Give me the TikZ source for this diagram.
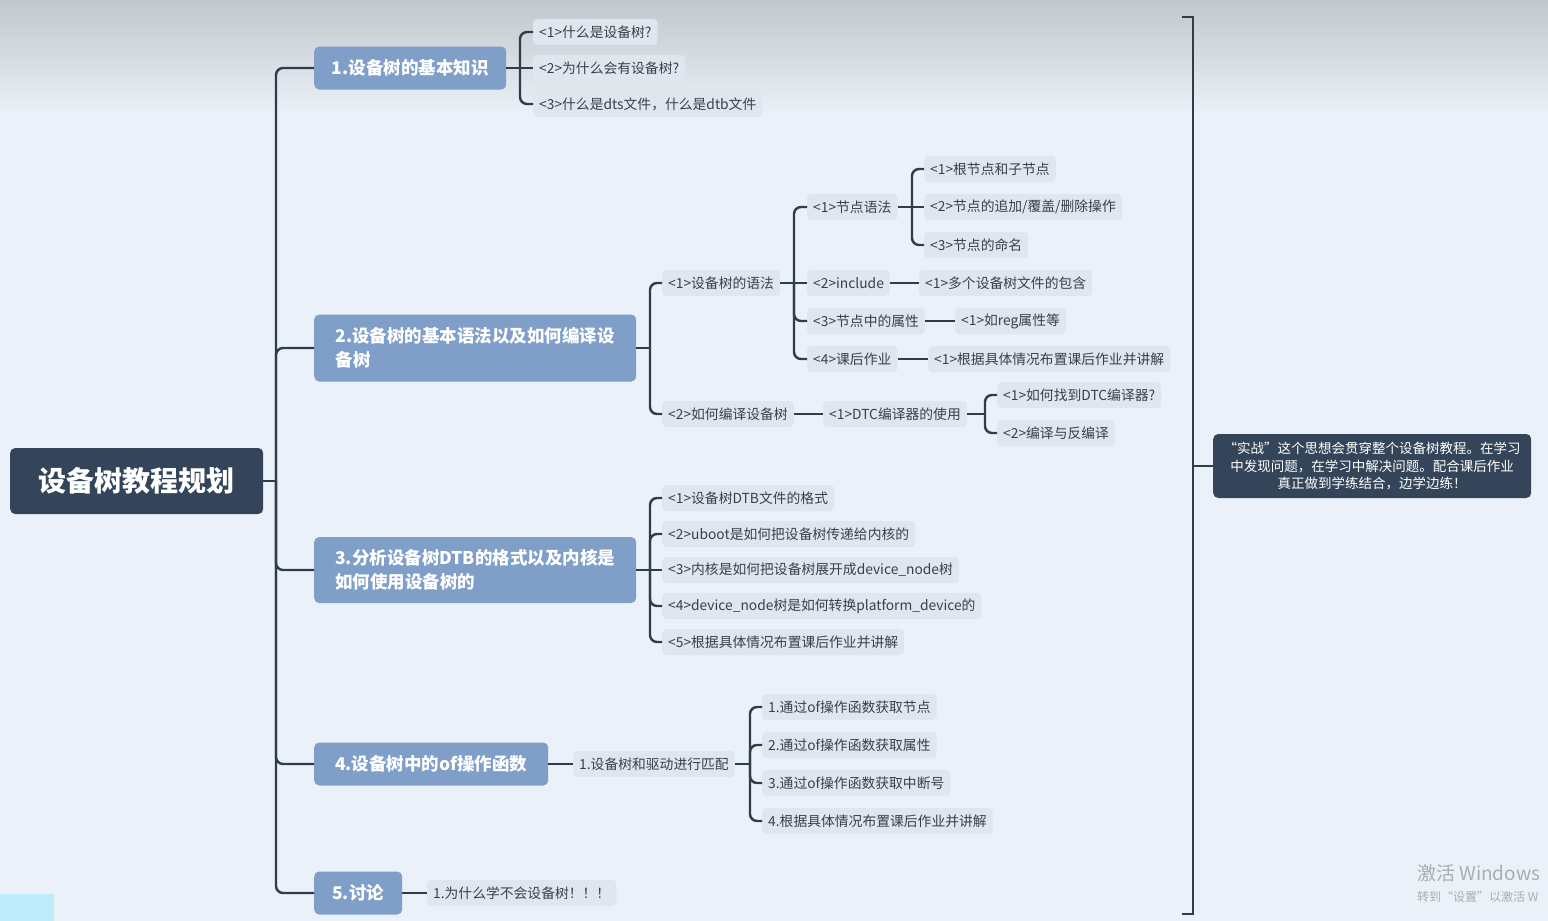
\documentclass[tikz,border=0pt]{standalone}
\usepackage{fontspec}
\setmainfont{Noto Sans CJK SC}
\definecolor{bgc}{RGB}{234,241,248}
\definecolor{topc}{RGB}{194,199,203}
\definecolor{rootc}{RGB}{52,69,90}
\definecolor{brc}{RGB}{127,159,201}
\definecolor{leafc}{RGB}{222,230,239}
\definecolor{leaftext}{RGB}{60,64,70}
\definecolor{linec}{RGB}{47,60,76}
\definecolor{wmc}{RGB}{168,174,180}
\definecolor{cyanc}{RGB}{190,236,250}
\tikzset{
  rootbox/.style={fill=rootc, rounded corners=5pt, text=white, font=\fontsize{28}{32}\selectfont\bfseries, minimum width=253pt, minimum height=66pt, inner sep=0pt, anchor=west},
  brbox/.style={fill=brc, rounded corners=5pt, text=white, font=\fontsize{17.5}{24}\selectfont\bfseries, minimum height=43pt, inner xsep=17pt, inner ysep=0pt, anchor=west, align=left},
  leaf/.style={fill=leafc, rounded corners=4pt, text=leaftext, font=\fontsize{13.8}{16}\selectfont, anchor=west, inner xsep=6pt, inner ysep=0pt, minimum height=26pt},
  conn/.style={draw=linec, line width=2.4pt, rounded corners=7pt},
  sumbox/.style={fill=rootc, rounded corners=5pt, text=white, font=\fontsize{13.5}{17.5}\selectfont, minimum width=318pt, minimum height=64pt, inner sep=0pt, align=center, anchor=west}
}
\begin{document}
\begin{tikzpicture}[x=1pt,y=-1pt]
\useasboundingbox (0,0) rectangle (1548,921);
\clip (0,0) rectangle (1548,921);
% background
\fill[bgc] (0,0) rectangle (1548,921);
\shade[top color=topc, bottom color=bgc] (0,0) rectangle (1548,115);
\fill[cyanc] (0,894) rectangle (54,921);
\node[anchor=west, text=wmc, font=\fontsize{19}{22}\selectfont, inner sep=0pt] (wm1) at (1417,873) {激活 Windows};
\node[anchor=west, text=wmc, font=\fontsize{12}{15}\selectfont, inner sep=0pt] (wm2) at (1417,897) {转到“设置”以激活 W};

% root
\node[rootbox] (root) at (10,481) {设备树教程规划};
% branches
\node[brbox, minimum width=192pt] (b1) at (314,68) {1.设备树的基本知识};
\node[brbox, minimum width=322pt, minimum height=67pt] (b2) at (314,348) {2.设备树的基本语法以及如何编译设\\备树};
\node[brbox, minimum width=322pt, minimum height=66pt] (b3) at (314,570) {3.分析设备树DTB的格式以及内核是\\如何使用设备树的};
\node[brbox, minimum width=234pt] (b4) at (314,764) {4.设备树中的of操作函数};
\node[brbox, minimum width=88pt] (b5) at (314,893) {5.讨论};

% branch 1 leaves
\node[leaf] (l11) at (533,32) {<1>什么是设备树?};
\node[leaf] (l12) at (533,68) {<2>为什么会有设备树?};
\node[leaf] (l13) at (533,104) {<3>什么是dts文件，什么是dtb文件};

% branch 2 leaves
\node[leaf] (l21) at (662,283) {<1>设备树的语法};
\node[leaf] (l22) at (662,414) {<2>如何编译设备树};
\node[leaf] (l211) at (807,207) {<1>节点语法};
\node[leaf] (l212) at (807,283) {<2>include};
\node[leaf] (l213) at (807,321) {<3>节点中的属性};
\node[leaf] (l214) at (807,359) {<4>课后作业};
\node[leaf] (l2111) at (924,169) {<1>根节点和子节点};
\node[leaf] (l2112) at (924,207) {<2>节点的追加/覆盖/删除操作};
\node[leaf] (l2113) at (924,245) {<3>节点的命名};
\node[leaf] (l2121) at (919,283) {<1>多个设备树文件的包含};
\node[leaf] (l2131) at (955,321) {<1>如reg属性等};
\node[leaf] (l2141) at (928,359) {<1>根据具体情况布置课后作业并讲解};
\node[leaf] (l221) at (823,414) {<1>DTC编译器的使用};
\node[leaf] (l2211) at (997,395) {<1>如何找到DTC编译器?};
\node[leaf] (l2212) at (997,433) {<2>编译与反编译};

% branch 3 leaves
\node[leaf] (l31) at (662,498) {<1>设备树DTB文件的格式};
\node[leaf] (l32) at (662,534) {<2>uboot是如何把设备树传递给内核的};
\node[leaf] (l33) at (662,570) {<3>内核是如何把设备树展开成device\_node树};
\node[leaf] (l34) at (662,606) {<4>device\_node树是如何转换platform\_device的};
\node[leaf] (l35) at (662,642) {<5>根据具体情况布置课后作业并讲解};

% branch 4 leaves
\node[leaf] (l41) at (573,764) {1.设备树和驱动进行匹配};
\node[leaf] (l411) at (762,707) {1.通过of操作函数获取节点};
\node[leaf] (l412) at (762,745) {2.通过of操作函数获取属性};
\node[leaf] (l413) at (762,783) {3.通过of操作函数获取中断号};
\node[leaf] (l414) at (762,821) {4.根据具体情况布置课后作业并讲解};

% branch 5 leaf
\node[leaf] (l51) at (427,893) {1.为什么学不会设备树！！！};

% summary
\node[sumbox] (sum) at (1213,466) {“实战”这个思想会贯穿整个设备树教程。在学习\\中发现问题，在学习中解决问题。配合课后作业\\真正做到学练结合，边学边练！};

% junction coordinates
\coordinate (j0) at (276,481);
\coordinate (j1) at (520,68);
\coordinate (j2) at (650,348);
\coordinate (j21) at (794,283);
\coordinate (j211) at (912,207);
\coordinate (j22) at (985,414);
\coordinate (j3) at (650,570);
\coordinate (j4) at (750,764);
\coordinate (st) at (1182,17);
\coordinate (sb) at (1182,914);
\coordinate (sm) at (1193,466);

% root connectors
\draw[conn] (root.east) -- (j0);
\foreach \b in {b1,b2,b3,b4,b5} \draw[conn] (j0) |- (\b.west);

% branch 1
\draw[conn] (b1.east) -- (l12.west);
\draw[conn] (j1) |- (l11.west);
\draw[conn] (j1) |- (l13.west);

% branch 2
\draw[conn] (b2.east) -- (j2);
\draw[conn] (j2) |- (l21.west);
\draw[conn] (j2) |- (l22.west);
\draw[conn] (l21.east) -- (l212.west);
\draw[conn] (j21) |- (l211.west);
\draw[conn] (j21) |- (l213.west);
\draw[conn] (j21) |- (l214.west);
\draw[conn] (l211.east) -- (l2112.west);
\draw[conn] (j211) |- (l2111.west);
\draw[conn] (j211) |- (l2113.west);
\draw[conn] (l212.east) -- (l2121.west);
\draw[conn] (l213.east) -- (l2131.west);
\draw[conn] (l214.east) -- (l2141.west);
\draw[conn] (l22.east) -- (l221.west);
\draw[conn] (l221.east) -- (j22);
\draw[conn] (j22) |- (l2211.west);
\draw[conn] (j22) |- (l2212.west);

% branch 3
\draw[conn] (b3.east) -- (l33.west);
\foreach \l in {l31,l32,l34,l35} \draw[conn] (j3) |- (\l.west);

% branch 4
\draw[conn] (b4.east) -- (l41.west);
\draw[conn] (l41.east) -- (j4);
\foreach \l in {l411,l412,l413,l414} \draw[conn] (j4) |- (\l.west);

% branch 5
\draw[conn] (b5.east) -- (l51.west);

% summary bracket
\draw[draw=linec, line width=2pt] (st) -| (sm) |- (sb);
\draw[draw=linec, line width=2pt] (sm) -- (sum.west);
\end{tikzpicture}
\end{document}
